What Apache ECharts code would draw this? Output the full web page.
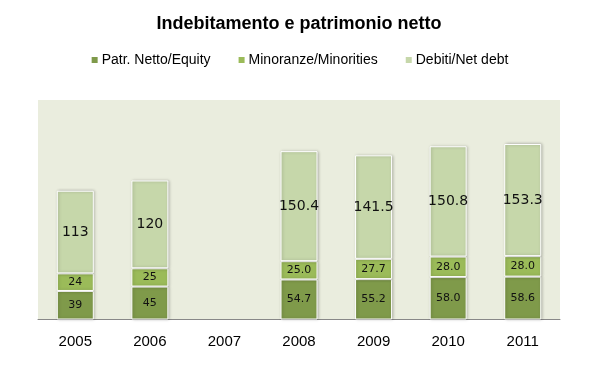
<!DOCTYPE html>
<html><head><meta charset="utf-8">
<script src="https://cdn.jsdelivr.net/npm/echarts@6/dist/echarts.min.js"></script>
<style>html,body{margin:0;padding:0;background:#fff}#c{width:598px;height:375px}</style>
</head><body><div id="c"></div>
<script>
var categories = ['2005','2006','2007','2008','2009','2010','2011'];
var equity = [39, 45, null, 54.7, 55.2, 58.0, 58.6];
var minorities = [24, 25, null, 25.0, 27.7, 28.0, 28.0];
var netDebt = [113, 120, null, 150.4, 141.5, 150.8, 153.3];
var labelDecimals = [0, 0, 0, 1, 1, 1, 1];
var seriesNames = ['Patr. Netto/Equity', 'Minoranze/Minorities', 'Debiti/Net debt'];
var colors = ['#7F9A4A', '#9BBB59', '#C6D7AA'];

var chart = echarts.init(document.getElementById('c'));
function fmt(p){ return p.value == null ? '' : Number(p.value).toFixed(labelDecimals[p.dataIndex]); }
function mk(name, data, color, fs){
  return {
    name: name, type: 'bar', stack: 't', data: data, barWidth: 37,
    itemStyle: {color: color, borderColor: '#fff', borderWidth: 1, shadowBlur: 3, shadowColor: 'rgba(0,0,0,0.25)', shadowOffsetX: 1},
    label: {show: true, position: 'inside', color: '#111', fontFamily: 'DejaVu Sans', fontSize: fs, formatter: fmt}
  };
}
chart.setOption({
  animation: false,
  title: {text: 'Indebitamento e patrimonio netto', left: 'center', top: 10,
    textStyle: {fontFamily: '"Liberation Sans Narrow","Arial Narrow",sans-serif', fontWeight: 'bold', fontSize: 18, color: '#000'}},
  legend: {top: 48, left: 'center', itemWidth: 8, itemHeight: 8, itemGap: 26, icon: 'rect',
    textStyle: {fontFamily: '"Liberation Sans Narrow","Arial Narrow",sans-serif', fontSize: 14, color: '#000', padding: [0,0,0,-2]},
    data: seriesNames},
  grid: {left: 38, right: 38, top: 100, bottom: 55.5, show: true, backgroundColor: '#EAEDDE', borderWidth: 0},
  xAxis: {type: 'category', data: categories,
    axisLine: {lineStyle: {color: '#888', width: 1}}, axisTick: {show: false},
    axisLabel: {fontFamily: 'Liberation Sans', fontSize: 15, color: '#000', margin: 15}},
  yAxis: {type: 'value', min: 0, max: 300, show: false, splitLine: {show: false}},
  color: colors,
  series: [mk(seriesNames[0], equity, colors[0], 11), mk(seriesNames[1], minorities, colors[1], 11), mk(seriesNames[2], netDebt, colors[2], 14)]
});
</script></body></html>
